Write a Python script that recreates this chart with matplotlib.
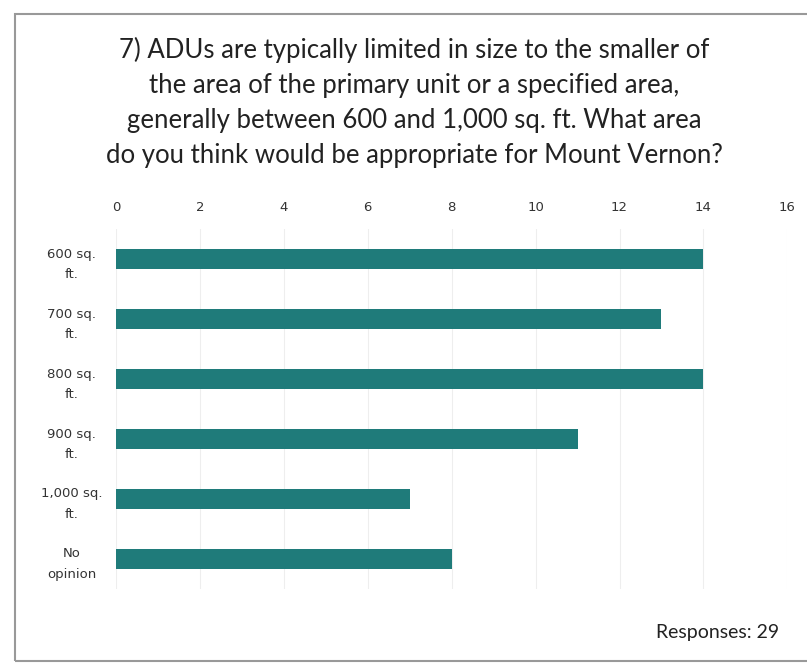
import matplotlib
matplotlib.use("Agg")
import matplotlib.pyplot as plt
from matplotlib.patches import Rectangle

# survey answers
labels = ["600 sq.\nft.", "700 sq.\nft.", "800 sq.\nft.", "900 sq.\nft.", "1,000 sq.\nft.", "No\nopinion"]
counts = [14, 13, 14, 11, 7, 8]
ticks = [0, 2, 4, 6, 8, 10, 12, 14, 16]

title = ("7) ADUs are typically limited in size to the smaller of\n"
         "the area of the primary unit or a specified area,\n"
         "generally between 600 and 1,000 sq. ft. What area\n"
         "do you think would be appropriate for Mount Vernon?")

plt.rcParams['font.family'] = ['Lato', 'DejaVu Sans']

fig = plt.figure(figsize=(8.07, 6.64), dpi=100)
ax = fig.add_axes([0.1437, 0.113, 0.832, 0.542])

ypos = list(range(len(labels)))
ax.barh(ypos, counts, height=0.33, color="#1f7b7a")
ax.set_ylim(len(labels) - 0.5, -0.5)
ax.set_xlim(0, 16)
ax.set_xticks(ticks)
ax.xaxis.tick_top()
ax.tick_params(axis='x', length=0, pad=11, labelcolor="#333333")
ax.tick_params(axis='y', length=0, labelcolor="#333333")
for t in ax.get_xticklabels():
    t.set_family(['DejaVu Sans'])
    t.set_fontsize(9.5)
ax.set_yticks(ypos)
ax.set_yticklabels(labels, ha='center', family=['DejaVu Sans'], fontsize=9.5, linespacing=1.75)
ax.yaxis.set_tick_params(pad=32)
ax.grid(axis='x', color="#eeeeee", linewidth=0.8)
ax.set_axisbelow(True)
for s in ax.spines.values():
    s.set_visible(False)

fig.text(0.513, 0.845, title, ha='center', va='center', fontsize=18.5,
         color="#222222", linespacing=1.5)
fig.text(0.966, 0.048, "Responses: 29", ha='right', va='center', fontsize=14,
         color="#222222")

# scanned frame
fig.add_artist(Rectangle((0.019, 0.004), 1.2, 0.975, transform=fig.transFigure,
                         fill=False, edgecolor="#999999", linewidth=1.5))

fig.savefig("out.png", dpi=100)
